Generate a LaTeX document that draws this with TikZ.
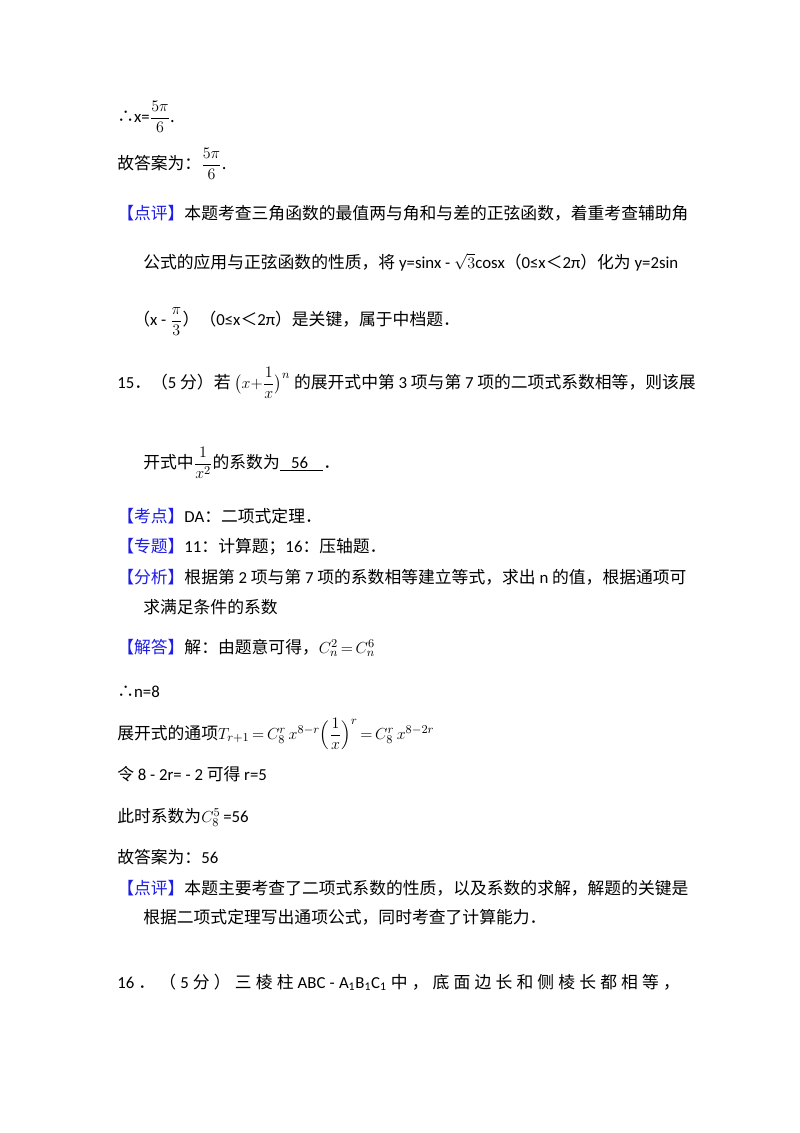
\documentclass[tikz,border=0pt]{standalone}
\usepackage{amsmath}
\usepackage{fontspec}
\setmainfont{Noto Sans CJK SC}
\newfontfamily\lat{Carlito}
\definecolor{kb}{RGB}{30,30,230}
\newcommand{\kb}[1]{\textcolor{kb}{【#1】}}
\begin{document}
\begin{tikzpicture}[x=0.75pt,y=-0.75pt,
  t/.style={anchor=base west,inner sep=0pt,font=\fontsize{12.6}{15}\selectfont}]
\useasboundingbox[fill=white] (0,0) rectangle (800,1133);
\node[t] (a1) at (117,122) {∴{\lat x=}$\dfrac{5\pi}{6}$.};
\node[t] (a2) at (117,169) {故答案为：$\dfrac{5\pi}{6}$.};
\node[t] (a3) at (117,219) {\kb{点评}本题考查三角函数的最值两与角和与差的正弦函数，着重考查辅助角};
\node[t] (a4) at (143,268) {公式的应用与正弦函数的性质，将{\lat\ y=sinx - $\sqrt{3}$cosx}（{\lat 0≤x}＜{\lat 2π}）化为{\lat\ y=2sin}};
\node[t] (a5) at (133,325) {（{\lat x - }$\dfrac{\pi}{3}$）（{\lat 0≤x}＜{\lat 2π}）是关键，属于中档题．};
\node[t] (q1) at (117,388) {{\lat 15}．（{\lat 5} 分）若 $\bigl(x{+}\dfrac{1}{x}\bigr)^{n}$ 的展开式中第 {\lat 3} 项与第 {\lat 7} 项的二项式系数相等，则该展};
\node[t] (q2) at (143,468) {开式中$\dfrac{1}{x^2}$的系数为\underline{\lat\ \ \ 56\ \ \ \ }．};
\node[t] (k1) at (117,522) {\kb{考点}{\lat DA}：二项式定理．};
\node[t] (k2) at (117,552) {\kb{专题}{\lat 11}：计算题；{\lat 16}：压轴题．};
\node[t] (k3) at (117,583) {\kb{分析}根据第 {\lat 2} 项与第 {\lat 7} 项的系数相等建立等式，求出 {\lat n} 的值，根据通项可};
\node[t] (k4) at (143,613) {求满足条件的系数};
\node[t] (s1) at (117,653) {\kb{解答}解：由题意可得，$C_n^2\,{=}\,C_n^6$};
\node[t] (s2) at (117,697) {∴{\lat n=8}};
\node[t] (s3) at (117,739) {展开式的通项$T_{r+1}\,{=}\,C_8^r\, x^{8-r}\Bigl(\dfrac{1}{x}\Bigr)^{r}\,{=}\,C_8^r\, x^{8-2r}$};
\node[t] (s4) at (117,780) {令 {\lat 8 - 2r= - 2} 可得 {\lat r=5}};
\node[t] (s5) at (117,822) {此时系数为$C_8^5$\,{\lat =56}};
\node[t] (s6) at (117,863) {故答案为：{\lat 56}};
\node[t] (d1) at (117,894) {\kb{点评}本题主要考查了二项式系数的性质，以及系数的求解，解题的关键是};
\node[t] (d2) at (143,923) {根据二项式定理写出通项公式，同时考查了计算能力．};
\node[t] (p16) at (117,988) {\makebox[422pt][s]{{\lat 16} ． （ {\lat 5} 分 ） 三 棱 柱 {\lat ABC - A\textsubscript{1}B\textsubscript{1}C\textsubscript{1}} 中 ， 底 面 边 长 和 侧 棱 长 都 相 等 ，}};
\end{tikzpicture}
\end{document}
